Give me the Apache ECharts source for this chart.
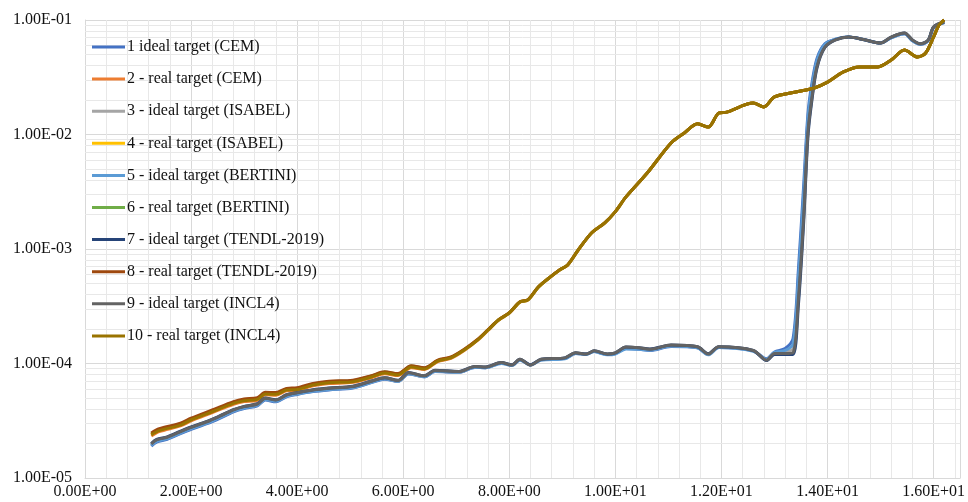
<!DOCTYPE html>
<html>
<head>
<meta charset="utf-8">
<script src="https://cdn.jsdelivr.net/npm/echarts@6/dist/echarts.min.js"></script>
<style>
  html, body { margin: 0; padding: 0; background: #ffffff; }
  #chart { width: 968px; height: 502px; }
</style>
</head>
<body>
<div id="chart"></div>
<script>
// Energy grid (same for all "ideal target" runs)
const idealX = [1.25, 1.35, 1.55, 1.8, 2.0, 2.3, 2.55, 2.8, 3.0, 3.25, 3.4, 3.6, 3.8, 4.0, 4.3, 4.6, 5.05, 5.4, 5.65, 5.9, 6.1, 6.4, 6.6, 7.05, 7.35, 7.55, 7.85, 8.05, 8.2, 8.4, 8.6, 9.05, 9.25, 9.45, 9.6, 9.85, 10.0, 10.2, 10.45, 10.65, 11.05, 11.55, 11.75, 11.95, 12.6, 12.85, 13.0, 13.2, 13.35, 13.45, 13.55, 13.63, 13.7, 13.8, 13.95, 14.15, 14.4, 14.65, 15.0, 15.2, 15.45, 15.6, 15.75, 15.9, 16.0, 16.2];

// Energy grid (same for all "real target" runs)
const realX = [1.25, 1.4, 1.8, 2.0, 2.4, 2.8, 3.0, 3.25, 3.4, 3.6, 3.8, 4.0, 4.3, 4.6, 5.05, 5.4, 5.65, 5.9, 6.15, 6.4, 6.65, 6.9, 7.15, 7.4, 7.6, 7.8, 8.0, 8.2, 8.35, 8.55, 8.75, 8.95, 9.1, 9.3, 9.55, 9.8, 10.0, 10.2, 10.6, 11.05, 11.3, 11.55, 11.75, 11.95, 12.1, 12.6, 12.8, 13.0, 13.4, 13.75, 14.0, 14.3, 14.6, 14.95, 15.2, 15.45, 15.7, 15.85, 16.0, 16.1, 16.2];

const cemIdeal = [1.90e-5, 2.06e-5, 2.18e-5, 2.44e-5, 2.66e-5, 2.98e-5, 3.34e-5, 3.78e-5, 4.04e-5, 4.27e-5, 4.79e-5, 4.63e-5, 5.12e-5, 5.37e-5, 5.68e-5, 5.88e-5, 6.12e-5, 6.80e-5, 7.30e-5, 6.95e-5, 8.10e-5, 7.65e-5, 8.50e-5, 8.35e-5, 9.25e-5, 9.20e-5, 1.01e-4, 9.65e-5, 1.08e-4, 9.70e-5, 1.08e-4, 1.11e-4, 1.22e-4, 1.21e-4, 1.27e-4, 1.20e-4, 1.22e-4, 1.35e-4, 1.33e-4, 1.30e-4, 1.41e-4, 1.37e-4, 1.20e-4, 1.38e-4, 1.29e-4, 1.10e-4, 1.26e-4, 1.35e-4, 1.65e-4, 6.5e-4, 3.6e-3, 1.5e-2, 2.7e-2, 4.6e-2, 6.2e-2, 6.8e-2, 7.1e-2, 6.8e-2, 6.3e-2, 7.0e-2, 7.6e-2, 6.6e-2, 6.1e-2, 6.6e-2, 8.6e-2, 9.5e-2];
const cemReal = [2.33e-5, 2.54e-5, 2.85e-5, 3.15e-5, 3.72e-5, 4.41e-5, 4.65e-5, 4.78e-5, 5.33e-5, 5.29e-5, 5.77e-5, 5.84e-5, 6.38e-5, 6.68e-5, 6.84e-5, 7.50e-5, 8.14e-5, 7.84e-5, 9.20e-5, 8.86e-5, 1.04e-4, 1.11e-4, 1.30e-4, 1.59e-4, 1.95e-4, 2.39e-4, 2.75e-4, 3.43e-4, 3.58e-4, 4.65e-4, 5.57e-4, 6.55e-4, 7.23e-4, 9.78e-4, 1.38e-3, 1.69e-3, 2.12e-3, 2.85e-3, 4.61e-3, 8.43e-3, 1.03e-2, 1.24e-2, 1.16e-2, 1.54e-2, 1.57e-2, 1.88e-2, 1.74e-2, 2.13e-2, 2.35e-2, 2.55e-2, 2.87e-2, 3.52e-2, 3.89e-2, 3.89e-2, 4.47e-2, 5.47e-2, 4.75e-2, 5.15e-2, 7.11e-2, 9.0e-2, 1.0e-1];
const isabelIdeal = [1.95e-5, 2.11e-5, 2.23e-5, 2.49e-5, 2.72e-5, 3.04e-5, 3.41e-5, 3.86e-5, 4.12e-5, 4.36e-5, 4.88e-5, 4.72e-5, 5.22e-5, 5.46e-5, 5.77e-5, 5.97e-5, 6.20e-5, 6.88e-5, 7.38e-5, 7.00e-5, 8.18e-5, 7.70e-5, 8.58e-5, 8.40e-5, 9.30e-5, 9.20e-5, 1.01e-4, 9.60e-5, 1.08e-4, 9.65e-5, 1.08e-4, 1.11e-4, 1.23e-4, 1.20e-4, 1.28e-4, 1.20e-4, 1.23e-4, 1.37e-4, 1.35e-4, 1.32e-4, 1.43e-4, 1.38e-4, 1.20e-4, 1.39e-4, 1.29e-4, 1.08e-4, 1.23e-4, 1.26e-4, 1.35e-4, 4.6e-4, 2.5e-3, 1.2e-2, 2.3e-2, 4.2e-2, 6.0e-2, 6.75e-2, 7.1e-2, 6.8e-2, 6.3e-2, 7.05e-2, 7.65e-2, 6.65e-2, 6.15e-2, 6.65e-2, 8.65e-2, 9.55e-2];
const isabelReal = [2.40e-5, 2.62e-5, 2.93e-5, 3.24e-5, 3.83e-5, 4.53e-5, 4.78e-5, 4.91e-5, 5.47e-5, 5.43e-5, 5.93e-5, 5.99e-5, 6.55e-5, 6.86e-5, 7.01e-5, 7.69e-5, 8.34e-5, 8.02e-5, 9.41e-5, 9.05e-5, 1.06e-4, 1.13e-4, 1.32e-4, 1.61e-4, 1.97e-4, 2.41e-4, 2.77e-4, 3.45e-4, 3.60e-4, 4.67e-4, 5.59e-4, 6.57e-4, 7.25e-4, 9.81e-4, 1.38e-3, 1.69e-3, 2.12e-3, 2.85e-3, 4.61e-3, 8.43e-3, 1.03e-2, 1.24e-2, 1.16e-2, 1.54e-2, 1.57e-2, 1.88e-2, 1.74e-2, 2.13e-2, 2.35e-2, 2.55e-2, 2.87e-2, 3.52e-2, 3.89e-2, 3.89e-2, 4.47e-2, 5.47e-2, 4.75e-2, 5.15e-2, 7.11e-2, 9.0e-2, 1.0e-1];
const bertiniIdeal = [1.93e-5, 2.09e-5, 2.21e-5, 2.47e-5, 2.70e-5, 3.02e-5, 3.39e-5, 3.83e-5, 4.09e-5, 4.33e-5, 4.85e-5, 4.69e-5, 5.18e-5, 5.42e-5, 5.73e-5, 5.93e-5, 6.16e-5, 6.85e-5, 7.35e-5, 6.98e-5, 8.15e-5, 7.68e-5, 8.55e-5, 8.38e-5, 9.28e-5, 9.18e-5, 1.00e-4, 9.60e-5, 1.07e-4, 9.70e-5, 1.07e-4, 1.10e-4, 1.22e-4, 1.20e-4, 1.27e-4, 1.19e-4, 1.21e-4, 1.34e-4, 1.33e-4, 1.31e-4, 1.42e-4, 1.37e-4, 1.19e-4, 1.38e-4, 1.28e-4, 1.09e-4, 1.25e-4, 1.30e-4, 1.48e-4, 5.4e-4, 3.0e-3, 1.35e-2, 2.5e-2, 4.4e-2, 6.1e-2, 6.8e-2, 7.1e-2, 6.8e-2, 6.3e-2, 7.0e-2, 7.6e-2, 6.6e-2, 6.15e-2, 6.6e-2, 8.6e-2, 9.5e-2];
const bertiniReal = [2.43e-5, 2.64e-5, 2.96e-5, 3.27e-5, 3.87e-5, 4.58e-5, 4.82e-5, 4.96e-5, 5.53e-5, 5.49e-5, 5.99e-5, 6.05e-5, 6.62e-5, 6.93e-5, 7.08e-5, 7.77e-5, 8.43e-5, 8.10e-5, 9.50e-5, 9.14e-5, 1.06e-4, 1.13e-4, 1.32e-4, 1.61e-4, 1.97e-4, 2.41e-4, 2.77e-4, 3.45e-4, 3.60e-4, 4.67e-4, 5.59e-4, 6.57e-4, 7.25e-4, 9.81e-4, 1.38e-3, 1.69e-3, 2.12e-3, 2.85e-3, 4.61e-3, 8.43e-3, 1.03e-2, 1.24e-2, 1.16e-2, 1.54e-2, 1.57e-2, 1.88e-2, 1.74e-2, 2.13e-2, 2.35e-2, 2.55e-2, 2.87e-2, 3.52e-2, 3.89e-2, 3.89e-2, 4.47e-2, 5.47e-2, 4.75e-2, 5.15e-2, 7.11e-2, 9.0e-2, 1.0e-1];
const tendlIdeal = [2.00e-5, 2.17e-5, 2.29e-5, 2.56e-5, 2.79e-5, 3.12e-5, 3.50e-5, 3.95e-5, 4.22e-5, 4.46e-5, 4.99e-5, 4.83e-5, 5.34e-5, 5.58e-5, 5.90e-5, 6.10e-5, 6.33e-5, 7.03e-5, 7.52e-5, 7.14e-5, 8.33e-5, 7.83e-5, 8.72e-5, 8.53e-5, 9.42e-5, 9.33e-5, 1.02e-4, 9.74e-5, 1.09e-4, 9.75e-5, 1.09e-4, 1.12e-4, 1.24e-4, 1.21e-4, 1.29e-4, 1.21e-4, 1.24e-4, 1.39e-4, 1.37e-4, 1.34e-4, 1.45e-4, 1.40e-4, 1.22e-4, 1.40e-4, 1.30e-4, 1.06e-4, 1.20e-4, 1.20e-4, 1.20e-4, 3.2e-4, 1.7e-3, 9.5e-3, 1.9e-2, 3.8e-2, 5.75e-2, 6.7e-2, 7.1e-2, 6.8e-2, 6.3e-2, 7.1e-2, 7.7e-2, 6.7e-2, 6.2e-2, 6.7e-2, 8.7e-2, 9.6e-2];
const tendlReal = [2.47e-5, 2.69e-5, 3.01e-5, 3.33e-5, 3.93e-5, 4.65e-5, 4.90e-5, 5.03e-5, 5.60e-5, 5.57e-5, 6.06e-5, 6.13e-5, 6.70e-5, 7.00e-5, 7.15e-5, 7.83e-5, 8.48e-5, 8.16e-5, 9.55e-5, 9.19e-5, 1.07e-4, 1.14e-4, 1.33e-4, 1.62e-4, 1.98e-4, 2.42e-4, 2.78e-4, 3.46e-4, 3.61e-4, 4.68e-4, 5.60e-4, 6.58e-4, 7.26e-4, 9.82e-4, 1.38e-3, 1.69e-3, 2.12e-3, 2.85e-3, 4.61e-3, 8.43e-3, 1.03e-2, 1.24e-2, 1.16e-2, 1.54e-2, 1.57e-2, 1.88e-2, 1.74e-2, 2.13e-2, 2.35e-2, 2.55e-2, 2.87e-2, 3.52e-2, 3.89e-2, 3.89e-2, 4.47e-2, 5.47e-2, 4.75e-2, 5.15e-2, 7.11e-2, 9.0e-2, 1.0e-1];
const incl4Ideal = [1.98e-5, 2.15e-5, 2.27e-5, 2.54e-5, 2.77e-5, 3.10e-5, 3.48e-5, 3.93e-5, 4.20e-5, 4.43e-5, 4.97e-5, 4.80e-5, 5.31e-5, 5.56e-5, 5.87e-5, 6.07e-5, 6.30e-5, 7.00e-5, 7.50e-5, 7.10e-5, 8.30e-5, 7.80e-5, 8.70e-5, 8.50e-5, 9.40e-5, 9.30e-5, 1.02e-4, 9.70e-5, 1.09e-4, 9.70e-5, 1.09e-4, 1.12e-4, 1.24e-4, 1.21e-4, 1.29e-4, 1.21e-4, 1.24e-4, 1.39e-4, 1.37e-4, 1.33e-4, 1.45e-4, 1.40e-4, 1.21e-4, 1.40e-4, 1.30e-4, 1.07e-4, 1.22e-4, 1.22e-4, 1.24e-4, 3.6e-4, 1.9e-3, 1.03e-2, 2.0e-2, 3.9e-2, 5.8e-2, 6.7e-2, 7.1e-2, 6.8e-2, 6.3e-2, 7.1e-2, 7.7e-2, 6.7e-2, 6.2e-2, 6.7e-2, 8.7e-2, 9.6e-2];
const incl4Real = [2.38e-5, 2.59e-5, 2.90e-5, 3.21e-5, 3.79e-5, 4.49e-5, 4.73e-5, 4.86e-5, 5.42e-5, 5.38e-5, 5.87e-5, 5.93e-5, 6.49e-5, 6.79e-5, 6.94e-5, 7.62e-5, 8.26e-5, 7.94e-5, 9.32e-5, 8.96e-5, 1.05e-4, 1.12e-4, 1.31e-4, 1.60e-4, 1.96e-4, 2.40e-4, 2.76e-4, 3.44e-4, 3.59e-4, 4.66e-4, 5.58e-4, 6.56e-4, 7.24e-4, 9.80e-4, 1.38e-3, 1.69e-3, 2.12e-3, 2.85e-3, 4.61e-3, 8.43e-3, 1.03e-2, 1.24e-2, 1.16e-2, 1.54e-2, 1.57e-2, 1.88e-2, 1.74e-2, 2.13e-2, 2.35e-2, 2.55e-2, 2.87e-2, 3.52e-2, 3.89e-2, 3.89e-2, 4.47e-2, 5.47e-2, 4.75e-2, 5.15e-2, 7.11e-2, 9.0e-2, 1.0e-1];

const seriesNames = [
  '1 ideal target (CEM)',
  '2 - real target (CEM)',
  '3 - ideal target (ISABEL)',
  '4 - real target (ISABEL)',
  '5 - ideal target (BERTINI)',
  '6 - real target (BERTINI)',
  '7 - ideal target (TENDL-2019)',
  '8 - real target (TENDL-2019)',
  '9 - ideal target (INCL4)',
  '10 - real target (INCL4)'
];
const seriesColors = ['#4472C4', '#ED7D31', '#A5A5A5', '#FFC000', '#5B9BD5', '#70AD47', '#264478', '#9E480E', '#636363', '#997300'];
const seriesValues = [cemIdeal, cemReal, isabelIdeal, isabelReal, bertiniIdeal, bertiniReal, tendlIdeal, tendlReal, incl4Ideal, incl4Real];
const seriesIsIdeal = [true, false, true, false, true, false, true, false, true, false];

// Log-scale minor gridline levels (2..9 within each decade)
const minorLogLevels = [
  2e-5, 3e-5, 4e-5, 5e-5, 6e-5, 7e-5, 8e-5, 9e-5,
  2e-4, 3e-4, 4e-4, 5e-4, 6e-4, 7e-4, 8e-4, 9e-4,
  2e-3, 3e-3, 4e-3, 5e-3, 6e-3, 7e-3, 8e-3, 9e-3,
  2e-2, 3e-2, 4e-2, 5e-2, 6e-2, 7e-2, 8e-2, 9e-2
];

const X_MIN = 0;
const X_MAX = 16.5;
const FONT = '"Liberation Serif", "DejaVu Serif", serif';
const TEXT_COLOR = '#111111';

function sciLabel(v) {
  const s = Number(v).toExponential(2); // e.g. "1.00e-5"
  const parts = s.split('e');
  const exp = parseInt(parts[1], 10);
  const sign = exp < 0 ? '-' : '+';
  const digits = String(Math.abs(exp)).padStart(2, '0');
  return parts[0] + 'E' + sign + digits;
}

const chart = echarts.init(document.getElementById('chart'), null, { renderer: 'canvas' });

// Minor log gridlines: horizontal segments spanning the x range, beneath the data
const series = [{
  name: '__minorGrid',
  type: 'lines',
  coordinateSystem: 'cartesian2d',
  silent: true,
  z: 1,
  lineStyle: { color: '#e8e8e8', width: 1, opacity: 1 },
  emphasis: { disabled: true },
  data: minorLogLevels.map(v => ({ coords: [[X_MIN, v], [X_MAX, v]] }))
}];

seriesNames.forEach((name, i) => {
  const xs = seriesIsIdeal[i] ? idealX : realX;
  series.push({
    name: name,
    type: 'line',
    data: xs.map((x, k) => [x, seriesValues[i][k]]),
    showSymbol: false,
    symbol: 'none',
    smooth: 0.3,
    z: 3,
    lineStyle: { color: seriesColors[i], width: 3 },
    itemStyle: { color: seriesColors[i] },
    emphasis: { disabled: true }
  });
});

chart.setOption({
  animation: false,
  backgroundColor: '#ffffff',
  grid: { left: 85, right: 5, top: 20, bottom: 24, containLabel: false },
  legend: {
    data: seriesNames,
    orient: 'vertical',
    left: 92,
    top: 38,
    padding: 0,
    itemWidth: 33,
    itemHeight: 3,
    itemGap: 14.1,
    icon: 'rect',
    selectedMode: false,
    textStyle: { fontFamily: FONT, fontSize: 16, color: TEXT_COLOR, lineHeight: 18, padding: [0, 0, 0, -3] }
  },
  xAxis: {
    type: 'value',
    min: X_MIN,
    max: X_MAX,
    interval: 2,
    axisLine: { show: true, lineStyle: { color: '#d9d9d9' } },
    axisTick: { show: false },
    axisLabel: {
      fontFamily: FONT, fontSize: 16, color: TEXT_COLOR, margin: 6,
      showMaxLabel: false,
      formatter: v => sciLabel(v)
    },
    splitLine: { show: true, lineStyle: { color: '#d9d9d9', width: 1 } },
    minorTick: { show: true, splitNumber: 5, length: 0 },
    minorSplitLine: { show: true, lineStyle: { color: '#e8e8e8', width: 1 } }
  },
  yAxis: {
    type: 'log',
    logBase: 10,
    min: 1e-5,
    max: 1e-1,
    axisLine: { show: true, lineStyle: { color: '#d9d9d9' } },
    axisTick: { show: false },
    axisLabel: {
      fontFamily: FONT, fontSize: 16, color: TEXT_COLOR, margin: 13,
      formatter: v => sciLabel(v)
    },
    splitLine: { show: true, lineStyle: { color: '#d9d9d9', width: 1 } }
  },
  series: series
});
</script>
</body>
</html>
